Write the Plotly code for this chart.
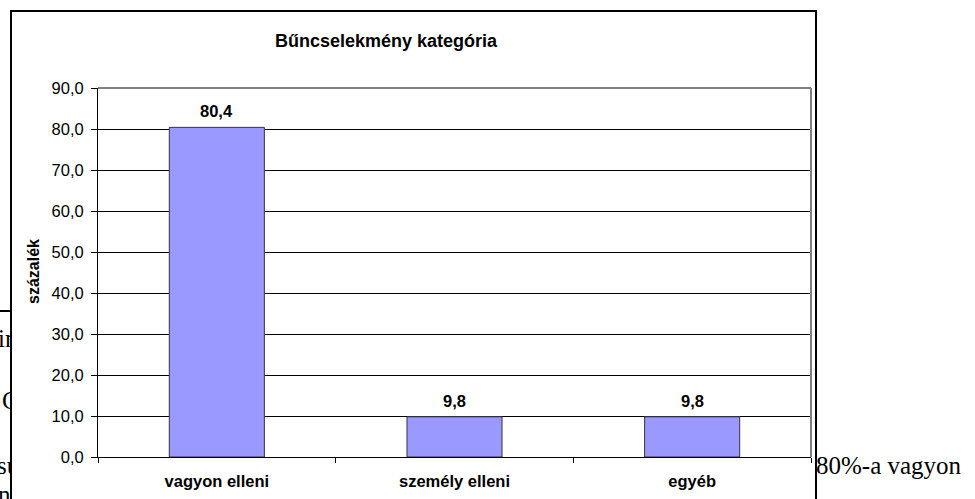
import plotly.graph_objects as go

# ---- data ----
categories = ["vagyon elleni", "személy elleni", "egyéb"]
values = [80.4, 9.8, 9.8]
chart_title = "Bűncselekmény kategória"
y_title = "százalék"
y_range = [0, 90]
y_step = 10

# surrounding document text fragments
left_fragments = ["in", "C", "su", "nd"]
left_fragment_y = [341, 403, 468, 497]
left_fragment_x = [-2, 2, -3, -2]
right_text = "80%-a vagyon"

W, H = 975, 499
def px_x(p):
    return p / W
def px_y(p):
    return (H - p) / H

SANS = "Arial, Liberation Sans, Helvetica, sans-serif"
SERIF = "Times New Roman, Liberation Serif, serif"

fig = go.Figure()

fig.add_trace(go.Bar(
    x=categories, y=values,
    marker=dict(color="#9999FF", line=dict(color="#333344", width=1)),
    hoverinfo="skip", showlegend=False,
    xaxis="x", yaxis="y",
))

# clipped text fragments on left side (behind chart box)
fig.add_trace(go.Scatter(
    x=left_fragment_x, y=left_fragment_y, text=left_fragments,
    mode="text", textposition="middle right",
    textfont=dict(family=SERIF, size=25, color="black"),
    cliponaxis=True, hoverinfo="skip", showlegend=False,
    xaxis="x2", yaxis="y2",
))

annotations = []
for c, v in zip(categories, values):
    annotations.append(dict(
        x=c, y=v, xref="x", yref="y", text=f"<b>{v:.1f}</b>".replace(".", ","),
        showarrow=False, yanchor="bottom", yshift=5,
        font=dict(family=SANS, size=16.5, color="black"),
    ))
annotations.append(dict(
    x=px_x(386), y=px_y(41), xref="paper", yref="paper",
    text=f"<b>{chart_title}</b>", showarrow=False,
    font=dict(family=SANS, size=18, color="black"),
    xanchor="center", yanchor="middle",
))
annotations.append(dict(
    x=px_x(33), y=px_y(272), xref="paper", yref="paper",
    text=f"<b>{y_title}</b>", showarrow=False, textangle=-90,
    font=dict(family=SANS, size=16, color="black"),
    xanchor="center", yanchor="middle",
))
annotations.append(dict(
    x=px_x(814), y=px_y(465), xref="paper", yref="paper",
    text=right_text, showarrow=False,
    font=dict(family=SERIF, size=25, color="black"),
    xanchor="left", yanchor="middle",
))

shapes = [
    # chart outer border
    dict(type="rect", xref="paper", yref="paper",
         x0=px_x(11), x1=px_x(816), y0=-0.2, y1=px_y(11),
         line=dict(color="black", width=2), fillcolor="rgba(0,0,0,0)", layer="above"),
    # plot area border top & right (gray)
    dict(type="line", xref="x domain", yref="y domain", x0=0, x1=1, y0=1, y1=1,
         line=dict(color="#808080", width=2), layer="above"),
    dict(type="line", xref="x domain", yref="y domain", x0=1, x1=1, y0=0, y1=1,
         line=dict(color="#808080", width=2), layer="above"),
    # document table line fragment at left
    dict(type="line", xref="paper", yref="paper",
         x0=0, x1=px_x(11), y0=px_y(311), y1=px_y(311),
         line=dict(color="black", width=2), layer="above"),
]

fig.update_layout(
    width=W, height=H,
    autosize=False,
    margin=dict(l=0, r=0, t=0, b=0, pad=0),
    paper_bgcolor="white", plot_bgcolor="white",
    separators=", ",
    bargap=0.6,
    showlegend=False,
    xaxis=dict(
        domain=[px_x(98), px_x(811)], anchor="y",
        type="category", showline=True, linecolor="black", linewidth=1,
        ticks="outside", tickson="boundaries", ticklen=5, tickcolor="black",
        tickfont=dict(family=SANS, size=16.5, color="black", weight="bold"),
        ticklabelstandoff=9, showgrid=False, fixedrange=True, automargin=False,
    ),
    yaxis=dict(
        domain=[px_y(457), px_y(88)], anchor="x",
        range=y_range, dtick=y_step, tick0=0, tickformat=".1f",
        showline=True, linecolor="black", linewidth=1,
        ticks="outside", ticklen=6, tickcolor="black",
        showgrid=True, gridcolor="black", gridwidth=1, zeroline=False,
        tickfont=dict(family=SANS, size=16.5, color="black"),
        ticklabelstandoff=4, fixedrange=True, automargin=False,
    ),
    xaxis2=dict(domain=[0, px_x(11)], range=[0, 11], anchor="y2",
                visible=False, fixedrange=True),
    yaxis2=dict(domain=[0, 1], range=[H, 0], anchor="x2",
                visible=False, fixedrange=True),
    annotations=annotations,
    shapes=shapes,
)

fig.write_html(
    "out.html",
    config={"displayModeBar": False, "responsive": False},
    post_script="document.body.style.margin='0';document.body.style.overflow='hidden';",
)
